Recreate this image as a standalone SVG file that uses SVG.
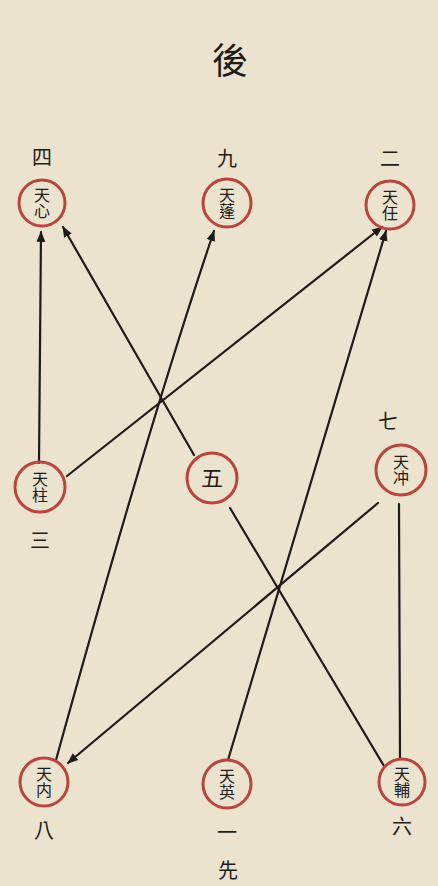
<svg xmlns="http://www.w3.org/2000/svg" width="438" height="886" viewBox="0 0 438 886">
<style>
.ring{fill:none;stroke:#b8463f;stroke-width:3}
.ch{font-family:"Noto Sans CJK TC","Noto Sans CJK SC",sans-serif;fill:#1e1b18;text-anchor:middle}
.n{font-size:16px;writing-mode:vertical-rl;text-orientation:upright}
.lab{font-size:20px}
.ttl{font-size:36px}
.ln{fill:none;stroke:#1e1b18;stroke-width:2.2;stroke-linecap:round}
</style>
<defs>
<marker id="ah" viewBox="0 0 10 10" refX="9" refY="5" markerWidth="5" markerHeight="5" orient="auto">
<path d="M0,1 L10,5 L0,9 z" fill="#1e1b18"/>
</marker>
</defs>
<rect width="438" height="886" fill="#ece3cf"/>
<g id="labels">
<text class="ch ttl" x="230" y="74">後</text>
<text class="ch lab" x="42" y="165">四</text>
<text class="ch lab" x="227" y="166">九</text>
<text class="ch lab" x="390" y="166">二</text>
<text class="ch lab" x="40" y="548">三</text>
<text class="ch lab" x="388" y="429">七</text>
<text class="ch lab" x="44" y="838">八</text>
<text class="ch lab" x="227" y="840">一</text>
<text class="ch lab" x="402" y="834">六</text>
<text class="ch lab" x="228" y="878">先</text>
</g>
<g id="connectors">
<path class="ln" d="M39,463 L41,232" marker-end="url(#ah)"/>
<path class="ln" d="M194,455 L63,227" marker-end="url(#ah)"/>
<path class="ln" d="M67,476 L382,227" marker-end="url(#ah)"/>
<path class="ln" d="M56,760 Q150,420 214,231" marker-end="url(#ah)"/>
<path class="ln" d="M228,760 Q330,420 386,231" marker-end="url(#ah)"/>
<path class="ln" d="M230,508 L384,766"/>
<path class="ln" d="M399,504 L400,758"/>
<path class="ln" d="M378,503 L68,763" marker-end="url(#ah)"/>
</g>
<g id="n-xin"><circle class="ring" cx="42" cy="203" r="23"/><text class="ch n" x="42" y="203">天心</text></g>
<g id="n-peng"><circle class="ring" cx="227" cy="203" r="24"/><text class="ch n" x="227" y="203">天蓬</text></g>
<g id="n-ren"><circle class="ring" cx="390" cy="205" r="24"/><text class="ch n" x="390" y="205">天任</text></g>
<g id="n-zhu"><circle class="ring" cx="40" cy="487" r="25"/><text class="ch n" x="40" y="487">天柱</text></g>
<g id="n-wu"><circle class="ring" cx="212" cy="478" r="25"/><text class="ch" style="font-size:22px" x="212" y="486">五</text></g>
<g id="n-chong"><circle class="ring" cx="401" cy="470" r="25"/><text class="ch n" x="401" y="470">天冲</text></g>
<g id="n-nei"><circle class="ring" cx="44" cy="782" r="24"/><text class="ch n" x="44" y="782">天内</text></g>
<g id="n-ying"><circle class="ring" cx="227" cy="784" r="24"/><text class="ch n" x="227" y="784">天英</text></g>
<g id="n-fu"><circle class="ring" cx="402" cy="782" r="23"/><text class="ch n" x="402" y="782">天輔</text></g>
</svg>
